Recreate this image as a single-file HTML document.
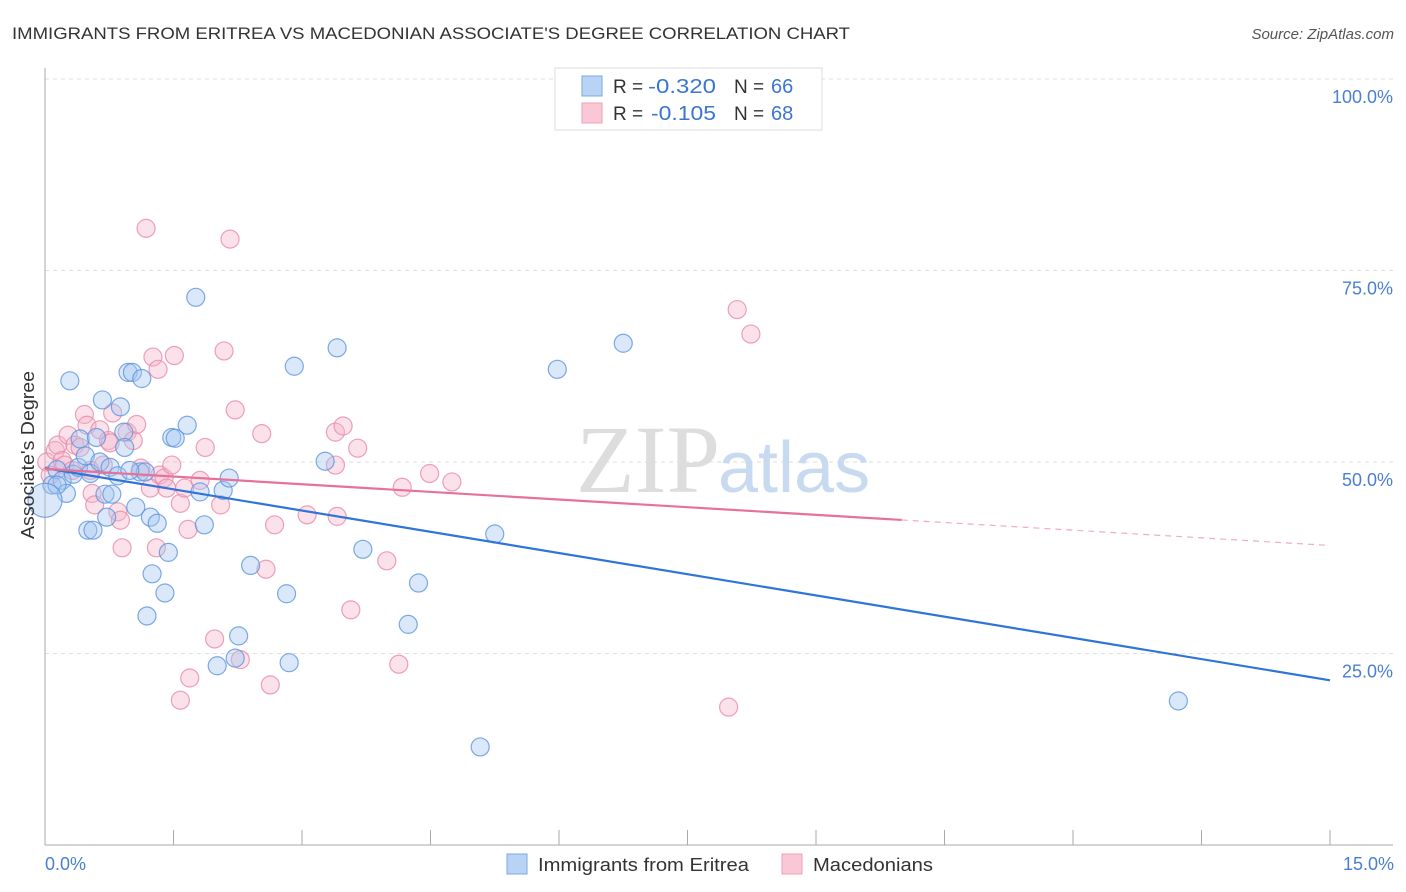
<!DOCTYPE html>
<html><head><meta charset="utf-8"><style>
body{margin:0;background:#fff;font-family:"Liberation Sans",sans-serif;}
svg{display:block}
</style></head><body>
<svg width="1406" height="892" viewBox="0 0 1406 892" xmlns="http://www.w3.org/2000/svg">
<text x="12" y="39" font-size="17" fill="#333" textLength="838" lengthAdjust="spacingAndGlyphs">IMMIGRANTS FROM ERITREA VS MACEDONIAN ASSOCIATE'S DEGREE CORRELATION CHART</text>
<text x="1394" y="39" font-size="15" fill="#555" font-style="italic" text-anchor="end">Source: ZipAtlas.com</text>
<g id="grid"></g>
<text x="720" y="492" font-size="96" fill="#ddd" text-anchor="end" font-family="Liberation Serif">ZIP</text>
<text x="718" y="492" font-size="72" fill="#c8daf0">atlas</text>
<g id="pts"></g>
<g id="lines"></g>
<text transform="translate(34,455) rotate(-90)" font-size="18" fill="#333" text-anchor="middle" textLength="168" lengthAdjust="spacingAndGlyphs">Associate's Degree</text>
<text x="45" y="870" font-size="18" fill="#4a7fd0">0.0%</text>
<text x="1394" y="870" font-size="18" fill="#4a7fd0" text-anchor="end">15.0%</text>
<g>
<rect x="555" y="68" width="267" height="62" fill="#fff" stroke="#ddd"/>
<rect x="582" y="76" width="20" height="20" fill="#b9d3f5" stroke="#7aa7e3"/>
<rect x="582" y="103" width="20" height="20" fill="#fac7d6" stroke="#ee9fb8"/>
<text x="613" y="93" font-size="19" fill="#333">R =</text>
<text x="648" y="93" font-size="20" fill="#3a76d0" textLength="68" lengthAdjust="spacingAndGlyphs">-0.320</text>
<text x="734" y="93" font-size="19" fill="#333">N =</text>
<text x="771" y="93" font-size="20" fill="#3a76d0">66</text>
<text x="613" y="120" font-size="19" fill="#333">R =</text>
<text x="651" y="120" font-size="20" fill="#3a76d0" textLength="65" lengthAdjust="spacingAndGlyphs">-0.105</text>
<text x="734" y="120" font-size="19" fill="#333">N =</text>
<text x="771" y="120" font-size="20" fill="#3a76d0">68</text>
</g>
<g>
<rect x="507" y="854" width="20" height="20" fill="#b9d3f5" stroke="#7aa7e3"/>
<text x="538" y="871" font-size="18" fill="#333" textLength="211" lengthAdjust="spacingAndGlyphs">Immigrants from Eritrea</text>
<rect x="782" y="854" width="20" height="20" fill="#fac7d6" stroke="#ee9fb8"/>
<text x="813" y="871" font-size="18" fill="#333" textLength="120" lengthAdjust="spacingAndGlyphs">Macedonians</text>
</g>
</svg>
<script>
const yTicks=[25,50,75,100];
const yTickLabels=["25.0%","50.0%","75.0%","100.0%"];
const blueX=[0.08,0.14,0.20,0.29,0.25,0.33,0.39,0.41,0.47,0.50,0.53,0.56,0.60,0.64,0.67,0.70,0.72,0.76,0.78,0.85,0.88,0.92,0.93,0.97,1.02,1.06,1.11,1.13,1.17,1.19,1.23,1.25,1.31,1.40,1.44,1.48,1.52,1.66,1.76,1.81,1.86,2.01,2.08,2.15,2.22,2.26,2.40,2.82,2.85,2.91,3.27,3.41,3.71,4.24,4.36,5.08,5.25,5.98,6.75,13.23,0.14,0.99];
const blueY=[47.0,49.0,47.6,60.6,45.9,48.4,49.3,53.0,50.8,41.1,48.5,41.1,53.2,50.0,58.1,45.8,42.8,49.3,45.8,48.2,57.2,53.9,51.9,61.7,61.7,44.1,48.7,60.9,48.7,29.9,42.8,35.4,42.0,32.9,38.2,53.2,53.1,54.8,71.5,46.1,41.8,23.4,46.3,47.9,24.4,27.3,36.5,32.8,23.8,62.5,50.1,64.9,38.6,28.8,34.2,12.8,40.6,62.1,65.5,18.8,47.0,48.9];
const pinkX=[0.02,0.06,0.12,0.15,0.20,0.23,0.27,0.32,0.35,0.41,0.46,0.49,0.53,0.55,0.58,0.64,0.68,0.74,0.76,0.79,0.85,0.88,0.90,0.96,1.03,1.07,1.12,1.18,1.23,1.26,1.30,1.32,1.34,1.39,1.42,1.48,1.51,1.58,1.63,1.67,1.69,1.58,1.81,1.87,1.98,2.05,2.09,2.16,2.22,2.28,2.53,2.58,2.63,2.68,3.06,3.39,3.48,3.39,3.41,3.57,3.65,3.99,4.13,4.17,4.49,4.75,7.98,8.08,8.24];
const pinkY=[50.0,48.3,51.5,52.2,50.2,49.6,53.5,48.9,52.2,51.9,56.2,54.8,48.9,45.9,44.4,54.2,49.6,52.8,52.5,56.4,43.5,42.4,38.8,53.9,52.8,54.9,49.2,80.5,46.6,63.7,38.8,62.1,48.3,47.9,46.6,49.6,63.9,44.6,46.6,41.2,21.8,18.9,47.6,51.9,26.9,44.4,64.5,79.1,56.8,24.2,53.7,36.0,20.9,41.8,43.1,53.9,54.7,49.6,42.9,30.7,51.8,37.1,23.6,46.7,48.5,47.4,18.0,69.9,66.7];
const bigX=[0.0],bigY=[45.0];
const blueTrend=[49.2,21.5];
const pinkTrend=[49.1,39.1];
const pinkSolidEnd=10;
const NS="http://www.w3.org/2000/svg";
const X=v=>45+v/15*1285, Y=v=>845-v*7.66;
function mk(tag,at,parent){const e=document.createElementNS(NS,tag);for(const k in at)e.setAttribute(k,at[k]);parent.appendChild(e);return e;}
const g=document.getElementById('grid');
yTicks.forEach((t,i)=>{
 const l=mk('line',{x1:45,x2:1393,y1:Y(t),y2:Y(t),stroke:'#ddd','stroke-dasharray':'4,4'},g);
 
 
 const tx=mk('text',{x:1393,y:Y(t)+24,'font-size':18,fill:'#4a7fd0','text-anchor':'end'},g);
 tx.textContent=yTickLabels[i];
 
 
});
const ax=mk('line',{x1:45,x2:45,y1:68,y2:845,stroke:'#aaa'},g);


const bx=mk('line',{x1:45,x2:1393,y1:845,y2:845,stroke:'#aaa'},g);


for(let i=0;i<=10;i++){const t=mk('line',{x1:X(i*1.5),x2:X(i*1.5),y1:830,y2:845,stroke:'#aaa'},g);
 
 }
const p=document.getElementById('pts');
function dot(x,y,r,fill,stroke,name){const c=mk('circle',{cx:X(x),cy:Y(y),r:r,fill:fill,'fill-opacity':0.4,stroke:stroke,'stroke-width':1.2,'stroke-opacity':0.8},p);
 
 }
pinkX.forEach((x,i)=>dot(x,pinkY[i],9,'#f5b3c8','#e88aa9','macedonian-point'));
blueX.forEach((x,i)=>dot(x,blueY[i],9,'#a6c6f0','#5d95de','eritrea-point'));
bigX.forEach((x,i)=>dot(x,bigY[i],17,'#a6c6f0','#5d95de','eritrea-point-large'));
const L=document.getElementById('lines');
const b=mk('line',{x1:X(0),y1:Y(blueTrend[0]),x2:X(15),y2:Y(blueTrend[1]),stroke:'#2f74d8','stroke-width':2.2},L);


const pv=x=>pinkTrend[0]+(pinkTrend[1]-pinkTrend[0])*x/15;
const ps=mk('line',{x1:X(0),y1:Y(pv(0)),x2:X(pinkSolidEnd),y2:Y(pv(pinkSolidEnd)),stroke:'#e8719a','stroke-width':2.2},L);


const pd=mk('line',{x1:X(pinkSolidEnd),y1:Y(pv(pinkSolidEnd)),x2:X(15),y2:Y(pv(15)),stroke:'#e8719a','stroke-width':1.2,'stroke-dasharray':'6,5','stroke-opacity':0.6},L);


</script>
</body></html>
